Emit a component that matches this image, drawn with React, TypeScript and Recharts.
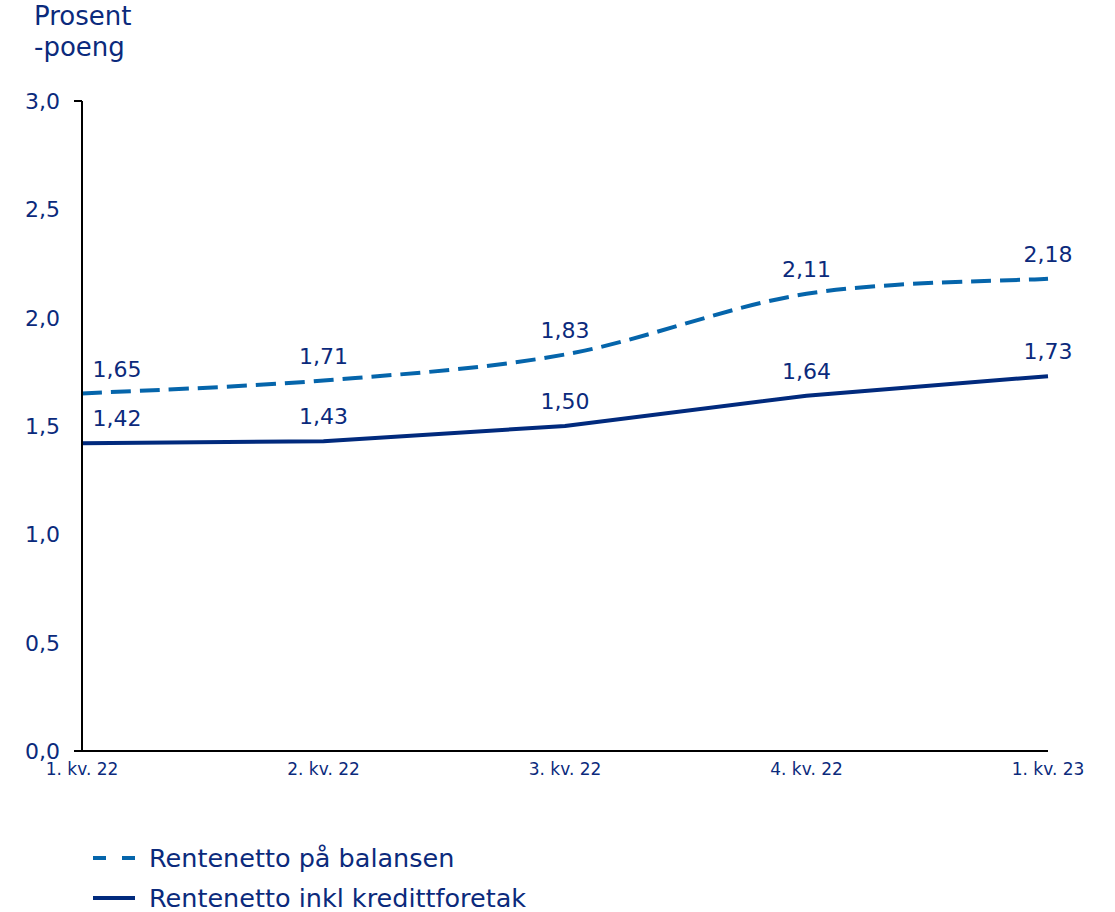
import React from "react";
import { LabelList, Line, LineChart, XAxis, YAxis } from "recharts";

const quarters = ["1. kv. 22", "2. kv. 22", "3. kv. 22", "4. kv. 22", "1. kv. 23"];
const balanse = [1.65, 1.71, 1.83, 2.11, 2.18];
const inklKreditt = [1.42, 1.43, 1.5, 1.64, 1.73];
const yTicks = [0, 0.5, 1, 1.5, 2, 2.5, 3];

const NAVY = "#0b2a7c";
const SOLID = "#012a7d";
const DASHED = "#0565ab";
const FONT = "'DejaVu Sans', sans-serif";

const data = quarters.map((q, i) => ({ q, balanse: balanse[i], inkl: inklKreditt[i] }));

const fmt = (v: number) => v.toFixed(2).replace(".", ",");

// Excel-like smoothing (uniform Catmull-Rom)
function smoothCurve(context: any) {
  let pts: [number, number][] = [];
  return {
    areaStart() {},
    areaEnd() {},
    lineStart() {
      pts = [];
    },
    point(x: number, y: number) {
      pts.push([+x, +y]);
    },
    lineEnd() {
      if (!pts.length) return;
      context.moveTo(pts[0][0], pts[0][1]);
      for (let i = 0; i < pts.length - 1; i++) {
        const p0 = pts[i - 1] || pts[i];
        const p1 = pts[i];
        const p2 = pts[i + 1];
        const p3 = pts[i + 2] || pts[i + 1];
        context.bezierCurveTo(
          p1[0] + (p2[0] - p0[0]) / 6,
          p1[1] + (p2[1] - p0[1]) / 6,
          p2[0] - (p3[0] - p1[0]) / 6,
          p2[1] - (p3[1] - p1[1]) / 6,
          p2[0],
          p2[1]
        );
      }
    },
  };
}

function YTick(props: any) {
  const { x, y, payload } = props;
  const v = payload.value as number;
  return (
    <g>
      {(v === 0 || v === 3) && <line x1={x} x2={x + 8} y1={y} y2={y} stroke="#000" strokeWidth={2} />}
      <text x={x - 14} y={y} dy={8} textAnchor="end" fill={NAVY} fontSize={22} fontFamily={FONT}>
        {v.toFixed(1).replace(".", ",")}
      </text>
    </g>
  );
}

function PointLabel(props: any) {
  const { x, y, value, index } = props;
  const shift = index === 0 ? 35 : 0;
  return (
    <text x={x + shift} y={y - 17} textAnchor="middle" fill={NAVY} fontSize={22} fontFamily={FONT}>
      {fmt(value)}
    </text>
  );
}

function LegendBox() {
  const rows = [
    { label: "Rentenetto på balansen", color: DASHED, dash: "13 16" },
    { label: "Rentenetto inkl kredittforetak", color: SOLID, dash: undefined },
  ];
  return (
    <div style={{ position: "absolute", left: 93, top: 838, fontFamily: FONT }}>
      {rows.map((r) => (
        <div key={r.label} style={{ display: "flex", alignItems: "center", height: 40 }}>
          <svg width={56} height={10}>
            <line x1={0} x2={42} y1={5} y2={5} stroke={r.color} strokeWidth={4} strokeDasharray={r.dash} />
          </svg>
          <span style={{ color: NAVY, fontSize: 25.5 }}>{r.label}</span>
        </div>
      ))}
    </div>
  );
}

export default function App() {
  return (
    <div style={{ position: "absolute", left: 0, top: 0, width: 1115, height: 912, background: "#fff" }}>
      <div style={{ position: "absolute", left: 34, top: 1, color: NAVY, fontSize: 26, lineHeight: "31px", fontFamily: FONT }}>
        Prosent
        <br />
        -poeng
      </div>
      <LineChart width={1115} height={912} data={data} margin={{ top: 101, right: 67, bottom: 131, left: 22 }}>
        <XAxis
          dataKey="q"
          axisLine={{ stroke: "#000", strokeWidth: 2 }}
          tickLine={false}
          tick={{ fill: NAVY, fontSize: 17, fontFamily: FONT }}
          tickMargin={6}
          height={30}
          interval={0}
        />
        <YAxis
          domain={[0, 3]}
          ticks={yTicks}
          width={60}
          axisLine={{ stroke: "#000", strokeWidth: 2 }}
          tickLine={false}
          tick={<YTick />}
        />
        <Line
          type={smoothCurve as any}
          dataKey="balanse"
          stroke={DASHED}
          strokeWidth={4}
          strokeDasharray="20 9"
          dot={false}
          isAnimationActive={false}
        >
          <LabelList dataKey="balanse" content={<PointLabel />} />
        </Line>
        <Line type="linear" dataKey="inkl" stroke={SOLID} strokeWidth={4} dot={false} isAnimationActive={false}>
          <LabelList dataKey="inkl" content={<PointLabel />} />
        </Line>
      </LineChart>
      <LegendBox />
    </div>
  );
}
